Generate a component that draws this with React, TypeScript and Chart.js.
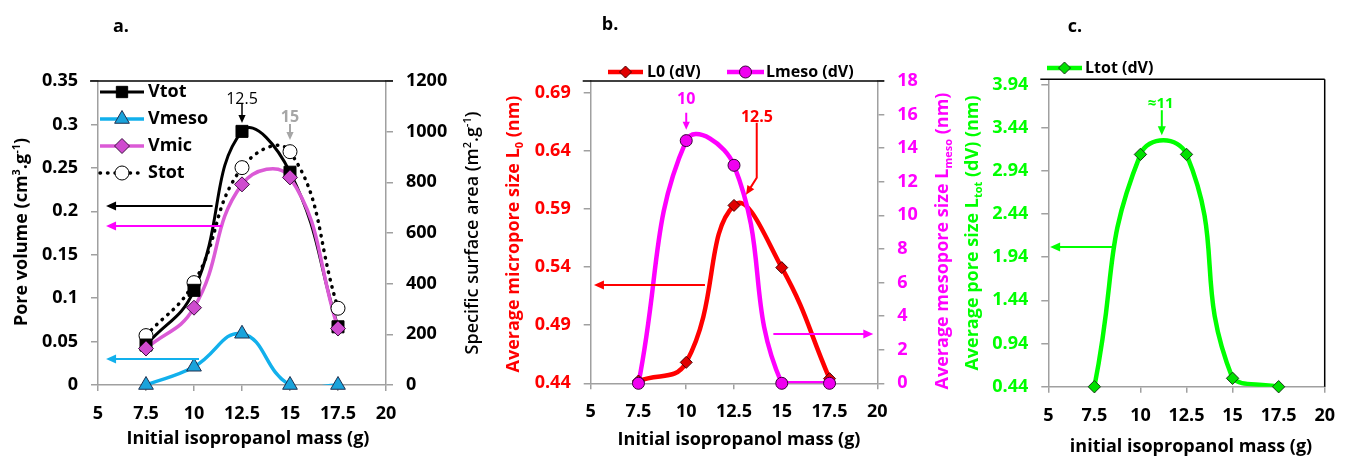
import React, { useEffect, useRef } from "react";
import { Chart, registerables } from "chart.js";
Chart.register(...registerables);

const FONT = "'Open Sans', 'DejaVu Sans', Arial, sans-serif";
const GRAY = "#A0A0A0";

// ---------- data ----------
const masses = [7.5, 10, 12.5, 15, 17.5];
// panel a
const vtot = [0.046, 0.109, 0.292, 0.245, 0.067];
const vmeso = [0, 0.021, 0.059, 0, 0];
const vmic = [0.042, 0.089, 0.231, 0.239, 0.065];
const stot = [195, 404, 858, 921, 303];
// panel b
const l0 = [0.442, 0.458, 0.593, 0.5395, 0.444];
const lmeso = [0, 14.45, 12.98, 0, 0];
// panel c
const ltot = [0.44, 3.13, 3.13, 0.537, 0.44];

const xTickValues = [5, 7.5, 10, 12.5, 15, 17.5, 20];
const poreVolumeTicks = [0, 0.05, 0.1, 0.15, 0.2, 0.25, 0.3, 0.35];
const surfaceTicks = [0, 200, 400, 600, 800, 1000, 1200];
const l0Ticks = [0.44, 0.49, 0.54, 0.59, 0.64, 0.69];
const lmesoTicks = [0, 2, 4, 6, 8, 10, 12, 14, 16, 18];
const ltotTicks = [0.44, 0.94, 1.44, 1.94, 2.44, 2.94, 3.44, 3.94];

const pts = (ys: number[]) => masses.map((x, i) => ({ x, y: ys[i] }));

// ---------- drawing helpers ----------
type Seg = { t: string; k?: "sub" | "sup" };

function setFont(ctx: CanvasRenderingContext2D, size: number, weight: string | number = "bold") {
  ctx.font = `${weight} ${size}px ${FONT}`;
}

function drawText(ctx: CanvasRenderingContext2D, t: string, x: number, y: number, size: number, color: string, weight: string | number = "bold", align: CanvasTextAlign = "center") {
  ctx.save();
  setFont(ctx, size, weight);
  ctx.fillStyle = color;
  ctx.textAlign = align;
  ctx.textBaseline = "middle";
  ctx.fillText(t, x, y);
  ctx.restore();
}

function drawRich(ctx: CanvasRenderingContext2D, segs: Seg[], cx: number, cy: number, size: number, weight: string | number, color: string, rotate: boolean) {
  ctx.save();
  ctx.translate(cx, cy);
  if (rotate) ctx.rotate(-Math.PI / 2);
  ctx.fillStyle = color;
  ctx.textBaseline = "alphabetic";
  ctx.textAlign = "left";
  const small = Math.round(size * 0.62);
  const ws = segs.map((s) => {
    setFont(ctx, s.k ? small : size, weight);
    return ctx.measureText(s.t).width;
  });
  const total = ws.reduce((a, b) => a + b, 0);
  let x = -total / 2;
  const base = size * 0.36;
  segs.forEach((s, i) => {
    setFont(ctx, s.k ? small : size, weight);
    const dy = s.k === "sup" ? -size * 0.4 : s.k === "sub" ? size * 0.2 : 0;
    ctx.fillText(s.t, x, base + dy);
    x += ws[i];
  });
  ctx.restore();
}

function drawArrow(ctx: CanvasRenderingContext2D, p: [number, number][], color: string, lw = 2, head = 9) {
  ctx.save();
  ctx.strokeStyle = color;
  ctx.fillStyle = color;
  ctx.lineWidth = lw;
  const [x1, y1] = p[p.length - 2];
  const [x2, y2] = p[p.length - 1];
  const a = Math.atan2(y2 - y1, x2 - x1);
  ctx.beginPath();
  ctx.moveTo(p[0][0], p[0][1]);
  for (let i = 1; i < p.length - 1; i++) ctx.lineTo(p[i][0], p[i][1]);
  ctx.lineTo(x2 - Math.cos(a) * head * 0.8, y2 - Math.sin(a) * head * 0.8);
  ctx.stroke();
  const w = head * 0.45;
  ctx.beginPath();
  ctx.moveTo(x2, y2);
  ctx.lineTo(x2 - head * Math.cos(a) + w * Math.sin(a), y2 - head * Math.sin(a) - w * Math.cos(a));
  ctx.lineTo(x2 - head * Math.cos(a) - w * Math.sin(a), y2 - head * Math.sin(a) + w * Math.cos(a));
  ctx.closePath();
  ctx.fill();
  ctx.restore();
}

function drawMarker(ctx: CanvasRenderingContext2D, shape: string, x: number, y: number, r: number, fill: string, stroke: string, bw = 1) {
  ctx.save();
  ctx.beginPath();
  if (shape === "circle") ctx.arc(x, y, r, 0, Math.PI * 2);
  else if (shape === "rect") {
    const s = r * Math.SQRT1_2;
    ctx.rect(x - s, y - s, 2 * s, 2 * s);
  } else if (shape === "rectRot") {
    ctx.moveTo(x - r, y);
    ctx.lineTo(x, y - r);
    ctx.lineTo(x + r, y);
    ctx.lineTo(x, y + r);
    ctx.closePath();
  } else if (shape === "triangle") {
    ctx.moveTo(x, y - r);
    ctx.lineTo(x + 0.866 * r, y + 0.5 * r);
    ctx.lineTo(x - 0.866 * r, y + 0.5 * r);
    ctx.closePath();
  }
  ctx.fillStyle = fill;
  ctx.fill();
  ctx.strokeStyle = stroke;
  ctx.lineWidth = bw;
  ctx.stroke();
  ctx.restore();
}

type LegendSpec = {
  x1: number; x2: number; y: number; color: string; lw: number; dash?: number[];
  shape: string; r: number; fill: string; stroke: string; label: string; tx: number; size: number;
};
function legendItem(ctx: CanvasRenderingContext2D, o: LegendSpec) {
  ctx.save();
  ctx.strokeStyle = o.color;
  ctx.lineWidth = o.lw;
  if (o.dash) {
    ctx.setLineDash(o.dash);
    ctx.lineCap = "round";
  }
  ctx.beginPath();
  ctx.moveTo(o.x1, o.y);
  ctx.lineTo(o.x2, o.y);
  ctx.stroke();
  ctx.restore();
  drawMarker(ctx, o.shape, (o.x1 + o.x2) / 2, o.y, o.r, o.fill, o.stroke);
  drawText(ctx, o.label, o.tx, o.y, o.size, "#000", "bold", "left");
}

function hline(ctx: CanvasRenderingContext2D, x1: number, y1: number, x2: number, y2: number, color: string, w: number) {
  ctx.save();
  ctx.strokeStyle = color;
  ctx.lineWidth = w;
  ctx.beginPath();
  ctx.moveTo(x1, y1);
  ctx.lineTo(x2, y2);
  ctx.stroke();
  ctx.restore();
}

// ---------- scale builders ----------
const tickFont = { family: FONT, size: 18, weight: "bold" as const };

function xAxis() {
  return {
    type: "linear" as const,
    position: "bottom" as const,
    min: 5,
    max: 20,
    afterBuildTicks: (s: any) => {
      s.ticks = xTickValues.map((v) => ({ value: v }));
    },
    afterFit: (s: any) => {
      s.height = 60;
    },
    ticks: { color: "#000", font: tickFont, padding: 12, maxRotation: 0, autoSkip: false, callback: (v: any) => String(v) },
    grid: { drawOnChartArea: false, drawTicks: true, tickLength: 6, color: GRAY, lineWidth: 1.5 },
    border: { display: true, color: GRAY, width: 1.5 },
  };
}

function yAxis(position: "left" | "right", min: number, max: number, ticks: number[], color: string, width: number) {
  return {
    type: "linear" as const,
    position,
    min,
    max,
    afterBuildTicks: (s: any) => {
      s.ticks = ticks.map((v) => ({ value: v }));
    },
    afterFit: (s: any) => {
      s.width = width;
    },
    ticks: { color, font: tickFont, padding: 13, autoSkip: false, callback: (v: any) => String(v) },
    grid: { drawOnChartArea: false, drawTicks: true, tickLength: 7, color: GRAY, lineWidth: 1.5 },
    border: { display: true, color: GRAY, width: 1.5 },
  };
}

function lineSet(data: number[], yAxisID: string, color: string, width: number, tension: number, order: number, extra: any = {}) {
  return {
    data: pts(data),
    yAxisID,
    borderColor: color,
    borderWidth: width,
    pointRadius: 0,
    tension,
    clip: 0,
    order,
    fill: false,
    ...extra,
  };
}

function pointSet(data: number[], yAxisID: string, shape: string, r: number, fill: string, stroke: string, order: number) {
  return {
    data: pts(data),
    yAxisID,
    showLine: false,
    pointStyle: shape,
    pointRadius: r,
    pointBackgroundColor: fill,
    pointBorderColor: stroke,
    pointBorderWidth: 1,
    clip: false,
    order,
  };
}

const baseOptions = (padding: any, scales: any, plugin: any, capBezier = true) => ({
  type: "line" as const,
  options: {
    responsive: false,
    animation: false as const,
    events: [],
    layout: { padding },
    elements: { line: { capBezierPoints: capBezier } },
    plugins: { legend: { display: false }, tooltip: { enabled: false } },
    scales,
  },
  plugins: [plugin],
});

// ---------- panel a ----------
const C_MESO = "#12B0EC";
const C_MESO_FILL = "#1AA3DB";
const C_MIC = "#DB5AD6";
const C_MIC_FILL = "#CF4BCF";

function buildA() {
  const deco = {
    id: "decoA",
    afterDraw(chart: any) {
      const { ctx, chartArea: ca, scales } = chart;
      const X = (v: number) => scales.x.getPixelForValue(v);
      const Y = (v: number) => scales.y.getPixelForValue(v);
      hline(ctx, ca.left - 8, ca.top, ca.right + 7, ca.top, "#000", 1.5);
      drawText(ctx, "a.", 121, 27, 18, "#000");
      drawRich(ctx, [{ t: "Pore volume (cm" }, { t: "3", k: "sup" }, { t: ".g" }, { t: "-1", k: "sup" }, { t: ")" }], 21, 232, 18, "bold", "#000", true);
      drawRich(ctx, [{ t: "Specific surface area (m" }, { t: "2", k: "sup" }, { t: ".g" }, { t: "-1", k: "sup" }, { t: ")" }], 472, 233, 18, 600, "#000", true);
      drawText(ctx, "Initial isopropanol mass (g)", 248, ca.bottom + 54, 18, "#000");
      // legend
      legendItem(ctx, { x1: 100, x2: 144, y: 92, color: "#000", lw: 3, shape: "rect", r: 8, fill: "#000", stroke: "#000", label: "Vtot", tx: 148, size: 18 });
      legendItem(ctx, { x1: 100, x2: 144, y: 119, color: C_MESO, lw: 3.5, shape: "triangle", r: 8.5, fill: C_MESO_FILL, stroke: "#1F3050", label: "Vmeso", tx: 148, size: 18 });
      legendItem(ctx, { x1: 100, x2: 144, y: 146, color: C_MIC, lw: 3.5, shape: "rectRot", r: 7.5, fill: C_MIC_FILL, stroke: "#3D1040", label: "Vmic", tx: 148, size: 18 });
      legendItem(ctx, { x1: 100, x2: 144, y: 173, color: "#000", lw: 3.5, dash: [0.5, 7], shape: "circle", r: 7, fill: "#fff", stroke: "#000", label: "Stot", tx: 148, size: 18 });
      // annotations
      drawText(ctx, "12.5", X(12.5), Y(0.3293), 16, "#000", "normal");
      drawArrow(ctx, [[X(12.5), Y(0.3235)], [X(12.5), Y(0.3016)]], "#000", 1.5, 8);
      drawText(ctx, "15", X(15), Y(0.3085), 16, "#A6A6A6", "bold");
      drawArrow(ctx, [[X(15), Y(0.3005)], [X(15), Y(0.2821)]], "#A6A6A6", 2, 8);
      drawArrow(ctx, [[X(10.97), Y(0.206)], [X(5.42), Y(0.206)]], "#000", 2, 10);
      drawArrow(ctx, [[X(11.44), Y(0.183)], [X(5.42), Y(0.183)]], "#FF00FF", 2, 10);
      drawArrow(ctx, [[X(10.26), Y(0.03)], [X(5.42), Y(0.03)]], C_MESO, 2, 10);
    },
  };
  return {
    ...baseOptions(
      { left: 8, right: 14, top: 81, bottom: 12 },
      { x: xAxis(), y: yAxis("left", 0, 0.35, poreVolumeTicks, "#000", 90), y2: yAxis("right", 0, 1200, surfaceTicks, "#000", 90) },
      deco,
      false
    ),
    data: {
      datasets: [
        pointSet(vmeso, "y", "triangle", 8.5, C_MESO_FILL, "#1F3050", 0),
        pointSet(vmic, "y", "rectRot", 7.5, C_MIC_FILL, "#3D1040", 1),
        pointSet(vtot, "y", "rect", 8.5, "#000", "#000", 2),
        pointSet(stot, "y2", "circle", 7, "#fff", "#000", 3),
        lineSet(vmeso, "y", C_MESO, 3.5, 0.45, 10),
        lineSet(vmic, "y", C_MIC, 3.5, 0.45, 11),
        lineSet(vtot, "y", "#000", 3, 0.45, 12),
        lineSet(stot, "y2", "#000", 3.5, 0.45, 13, { borderDash: [0.5, 7], borderCapStyle: "round" }),
      ],
    },
  };
}

// ---------- panel b ----------
const C_RED = "#FF0000";
const C_MAG = "#FF00FF";

function buildB() {
  const deco = {
    id: "decoB",
    afterDraw(chart: any) {
      const { ctx, chartArea: ca, scales } = chart;
      const X = (v: number) => scales.x.getPixelForValue(v);
      const Y = (v: number) => scales.y.getPixelForValue(v);
      const Y2 = (v: number) => scales.y2.getPixelForValue(v);
      hline(ctx, ca.left - 8, ca.top, ca.right + 7, ca.top, "#000", 1.5);
      drawText(ctx, "b.", 120, 25, 18, "#000");
      drawRich(ctx, [{ t: "Average micropore size L" }, { t: "0", k: "sub" }, { t: " (nm)" }], 23, 234, 18, "bold", C_RED, true);
      drawRich(ctx, [{ t: "Average mesopore size L" }, { t: "meso", k: "sub" }, { t: " (nm)" }], 452, 241, 18, "bold", C_MAG, true);
      drawText(ctx, "Initial isopropanol mass (g)", 249, ca.bottom + 57, 18, "#000");
      legendItem(ctx, { x1: 118, x2: 153, y: 72, color: C_RED, lw: 4.5, shape: "rectRot", r: 6, fill: "#E00000", stroke: "#4A0000", label: "L0 (dV)", tx: 157, size: 16 });
      legendItem(ctx, { x1: 237, x2: 274, y: 72, color: C_MAG, lw: 4.5, shape: "circle", r: 6, fill: "#F000F0", stroke: "#3A003A", label: "Lmeso (dV)", tx: 276, size: 16 });
      drawText(ctx, "10", X(10), Y(0.684), 16, C_MAG, "bold");
      drawArrow(ctx, [[X(10), Y(0.6727)], [X(10), Y(0.658)]], C_MAG, 2, 8);
      drawText(ctx, "12.5", X(13.7), Y(0.6685), 16, C_RED, "bold");
      drawArrow(ctx, [[X(13.69), Y(0.6641)], [X(13.69), Y(0.6168)], [X(13.13), Y(0.6022)]], C_RED, 2, 9);
      drawArrow(ctx, [[X(10.98), Y(0.5246)], [X(5.17), Y(0.5246)]], C_RED, 2, 10);
      drawArrow(ctx, [[X(14.56), Y2(2.94)], [X(19.79), Y2(2.94)]], C_MAG, 2, 10);
    },
  };
  return {
    ...baseOptions(
      { left: 10.7, right: 19.7, top: 81, bottom: 13.7 },
      { x: xAxis(), y: yAxis("left", 0.44, 0.7, l0Ticks, C_RED, 90), y2: yAxis("right", 0, 18, lmesoTicks, C_MAG, 60) },
      deco
    ),
    data: {
      datasets: [
        pointSet(lmeso, "y2", "circle", 6, "#F000F0", "#3A003A", 0),
        pointSet(l0, "y", "rectRot", 6, "#E00000", "#4A0000", 1),
        lineSet(lmeso, "y2", C_MAG, 4.5, 0.45, 10),
        lineSet(l0, "y", C_RED, 4.5, 0.45, 11),
      ],
    },
  };
}

// ---------- panel c ----------
const C_GREEN = "#00FF00";

function buildC() {
  const deco = {
    id: "decoC",
    afterDraw(chart: any) {
      const { ctx, chartArea: ca, scales } = chart;
      const X = (v: number) => scales.x.getPixelForValue(v);
      const Y = (v: number) => scales.y.getPixelForValue(v);
      hline(ctx, ca.left - 8, ca.top, ca.right, ca.top, "#000", 1.5);
      hline(ctx, ca.right, ca.top, ca.right, ca.bottom, "#000", 1.5);
      drawText(ctx, "c.", 118, 27, 18, "#000");
      drawRich(ctx, [{ t: "Average pore size L" }, { t: "tot", k: "sub" }, { t: " (dV) (nm)" }], 15, 233, 18, "bold", C_GREEN, true);
      drawText(ctx, "initial isopropanol mass (g)", 234, ca.bottom + 60, 18, "#000");
      legendItem(ctx, { x1: 90, x2: 125, y: 68, color: C_GREEN, lw: 4.5, shape: "rectRot", r: 6, fill: "#00E000", stroke: "#1A3A1A", label: "Ltot (dV)", tx: 128, size: 16 });
      drawText(ctx, "\u224811", X(11.1), Y(3.712), 15, C_GREEN, "bold");
      drawArrow(ctx, [[X(11.16), Y(3.642)], [X(11.16), Y(3.353)]], C_GREEN, 2, 9);
      drawArrow(ctx, [[X(8.6), Y(2.057)], [X(5.1), Y(2.057)]], C_GREEN, 2, 10);
    },
  };
  return {
    ...baseOptions(
      { left: 11.3, right: 13, top: 79.3, bottom: 10.3 },
      { x: xAxis(), y: yAxis("left", 0.44, 4.0, ltotTicks, C_GREEN, 80) },
      deco
    ),
    data: {
      datasets: [
        pointSet(ltot, "y", "rectRot", 6.2, "#00E000", "#1A3A1A", 0),
        lineSet(ltot, "y", C_GREEN, 4.5, 0.5, 10),
      ],
    },
  };
}

// ---------- components ----------
function Panel({ left, width, build }: { left: number; width: number; build: () => any }) {
  const ref = useRef<HTMLCanvasElement>(null);
  useEffect(() => {
    const chart = new Chart(ref.current as HTMLCanvasElement, build());
    return () => chart.destroy();
  }, [build]);
  return (
    <div style={{ position: "absolute", left, top: 0, width, height: 457 }}>
      <canvas ref={ref} width={width} height={457} style={{ display: "block", width, height: 457 }} />
    </div>
  );
}

export default function App() {
  return (
    <div style={{ position: "absolute", left: 0, top: 0, width: 1347, height: 457, background: "#fff", overflow: "hidden" }}>
      <Panel left={0} width={490} build={buildA} />
      <Panel left={490} width={467} build={buildB} />
      <Panel left={957} width={390} build={buildC} />
    </div>
  );
}
